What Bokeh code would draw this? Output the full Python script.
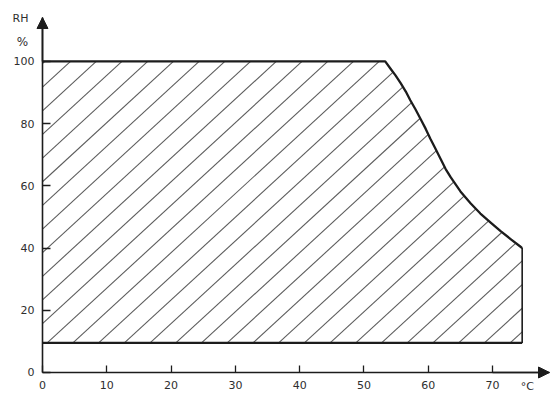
import numpy as np
from bokeh.plotting import figure
from bokeh.models import Arrow, NormalHead, Label, FixedTicker
from bokeh.embed import file_html
from bokeh.resources import INLINE

# ---- data ----
temp_ticks = [0, 10, 20, 30, 40, 50, 60, 70]
rh_ticks = [0, 20, 40, 60, 80, 100]

# upper boundary: flat at 100 %RH, then the falling curve down to 40 %RH
curve_temp = [0, 53.3, 54.1, 54.9, 55.7, 56.5, 57.2, 58.0, 58.8, 59.6, 60.3,
              61.1, 61.9, 62.7, 63.5, 65.0, 66.6, 68.1, 69.7, 71.2, 72.8,
              74.3, 74.6]
curve_rh = [100, 100, 97.7, 95.5, 93.0, 90.3, 87.5, 84.6, 81.5, 78.3, 75.2,
            72.0, 68.7, 65.4, 62.7, 58.2, 54.3, 51.1, 48.2, 45.5, 42.9,
            40.5, 40.0]

rh_min = 9.5     # lower boundary of the permitted area
temp_max = 74.6  # right boundary of the permitted area

region_temp = [0] + curve_temp + [temp_max]
region_rh = [rh_min] + curve_rh + [rh_min]

# ---- styling ----
FONT = "DejaVu Sans"
INK = "#1c1c1c"
TXT = "#2e2e2e"
HATCH = "#5c5c5c"
hatch_step = 4.0     # degC between hatch lines, measured along the lower edge
hatch_phase = 0.73   # first hatch line on the lower edge (degC)
hatch_slope = 1.90   # %RH per degC

X_END = 78.85   # end of the temperature axis (arrow tip)
Y_END = 114.1   # end of the RH axis (arrow tip)

p = figure(width=551, height=393, x_range=(-6.53, 79.16), y_range=(-6.75, 119.57),
           output_backend="svg", toolbar_location=None,
           min_border_left=0, min_border_right=0, min_border_top=0,
           min_border_bottom=0)
p.outline_line_color = None
p.grid.visible = False
p.background_fill_color = "white"
p.border_fill_color = "white"

# ---- hatch lines clipped to the permitted area ----
vx = np.array(region_temp + [region_temp[0]], dtype=float)
vy = np.array(region_rh + [region_rh[0]], dtype=float)
hx0, hy0, hx1, hy1 = [], [], [], []
for k in range(-20, 25):
    x0 = hatch_phase + k * hatch_step
    g = (vy - rh_min) - hatch_slope * (vx - x0)
    pts = []
    for i in range(len(vx) - 1):
        g1, g2 = g[i], g[i + 1]
        if (g1 < 0 <= g2) or (g2 < 0 <= g1):
            t = g1 / (g1 - g2)
            pts.append((vx[i] + t * (vx[i + 1] - vx[i]),
                        vy[i] + t * (vy[i + 1] - vy[i])))
    pts.sort()
    for j in range(0, len(pts) - 1, 2):
        hx0.append(pts[j][0]); hy0.append(pts[j][1])
        hx1.append(pts[j + 1][0]); hy1.append(pts[j + 1][1])

p.segment(x0=hx0, y0=hy0, x1=hx1, y1=hy1, line_color=HATCH, line_width=1.1)

# boundary lines
p.line(curve_temp, curve_rh, line_color=INK, line_width=2.3, line_join="round")
p.line([0, temp_max], [rh_min, rh_min], line_color=INK, line_width=2.2)
p.line([temp_max, temp_max], [rh_min, curve_rh[-1]], line_color=INK, line_width=1.6)

# ---- axes drawn at the data origin ----
for ax in (p.xaxis[0], p.yaxis[0]):
    ax.fixed_location = 0
    ax.axis_line_color = INK
    ax.axis_line_width = 1.6
    ax.major_tick_line_color = INK
    ax.major_tick_line_width = 1.3
    ax.major_tick_out = 0
    ax.minor_tick_line_color = None
    ax.major_label_text_font = FONT
    ax.major_label_text_font_size = "11px"
    ax.major_label_text_color = TXT

p.xaxis[0].ticker = FixedTicker(ticks=temp_ticks)
p.xaxis[0].bounds = (0, X_END)
p.xaxis[0].major_tick_in = 7
p.xaxis[0].major_label_standoff = 9
p.yaxis[0].ticker = FixedTicker(ticks=rh_ticks)
p.yaxis[0].bounds = (0, Y_END)
p.yaxis[0].major_tick_in = 8
p.yaxis[0].major_label_standoff = 8

# arrow heads on the axes
p.add_layout(Arrow(end=NormalHead(size=11, fill_color=INK, line_color=INK),
                   x_start=0, y_start=100, x_end=0, y_end=Y_END,
                   line_color=INK, line_width=1.6))
p.add_layout(Arrow(end=NormalHead(size=11, fill_color=INK, line_color=INK),
                   x_start=70, y_start=0, x_end=X_END, y_end=0,
                   line_color=INK, line_width=1.6))

# axis titles
p.add_layout(Label(x=-3.42, y=113.8, text="RH", text_align="center",
                   text_baseline="middle", text_font=FONT,
                   text_font_size="11px", text_color=TXT))
p.add_layout(Label(x=-3.1, y=106.1, text="%", text_align="center",
                   text_baseline="middle", text_font=FONT,
                   text_font_size="12px", text_color=TXT))
p.add_layout(Label(x=75.4, y=-4.6, text="°C", text_align="center",
                   text_baseline="middle", text_font=FONT,
                   text_font_size="11px", text_color=TXT))

open("out.html", "w").write(file_html(p, INLINE))
